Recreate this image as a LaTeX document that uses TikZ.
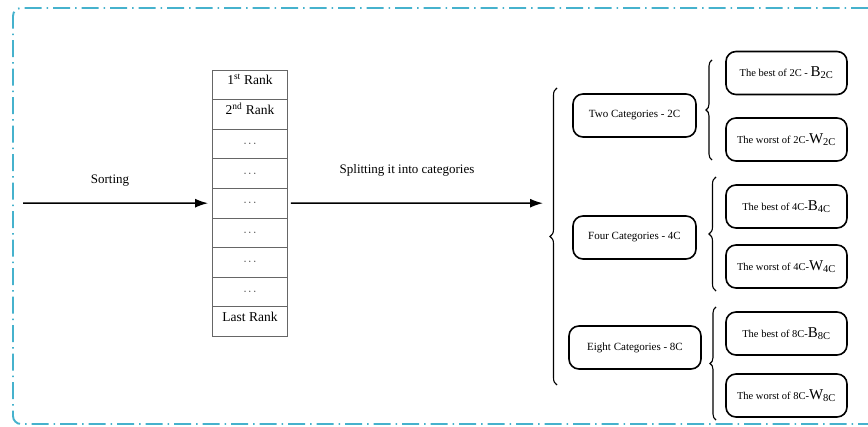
\documentclass[tikz,border=0pt]{standalone}
\usepackage{fontspec}
\setmainfont{Liberation Serif}
\usetikzlibrary{decorations.pathreplacing,arrows.meta}
\definecolor{framecyan}{RGB}{70,178,205}
\newcommand\bsz{\fontsize{15}{15}\selectfont}
\newcommand\celldots{\raisebox{-2.5pt}{\fontsize{11}{11}\selectfont$\cdots$}}
\begin{document}
\begin{tikzpicture}[x=1pt,y=-1pt,
 cell/.style={draw=black!60, line width=0.9pt, minimum width=75pt, minimum height=29.6pt, inner sep=0pt, text height=8pt, text depth=8pt, font=\fontsize{13.5}{15}\selectfont},
 catbox/.style={draw, rounded corners=10pt, line width=1.6pt, minimum height=43pt, inner sep=2pt, font=\fontsize{11}{13}\selectfont},
 resbox/.style={draw, rounded corners=10pt, line width=1.6pt, minimum width=121pt, minimum height=43pt, inner sep=2pt, font=\fontsize{10.5}{13}\selectfont},
 arr/.style={line width=1.5pt, -{Latex[length=13pt,width=9pt]}},
 brc/.style={decorate, decoration={brace, amplitude=6pt}, line width=1.1pt},
 lbl/.style={font=\fontsize{13}{15}\selectfont, inner sep=0pt}
]
\useasboundingbox (0,0) rectangle (868,427);
% frame
\draw[framecyan, line width=1.9pt, dash pattern=on 17pt off 5pt on 1.5pt off 5pt, rounded corners=8pt]
  (868,8) -- (13,8) -- (13,424) -- (868,424);

% table
\foreach \i/\t in {1/{1\textsuperscript{st} Rank},2/{2\textsuperscript{nd} Rank},3/{\celldots},4/{\celldots},5/{\celldots},6/{\celldots},7/{\celldots},8/{\celldots},9/{Last Rank}}{
  \node[cell] (r\i) at (250,{70+29.6*(\i-0.5)}) {\t};
}

% sorting arrow
\coordinate (s0) at (23,203.2);
\draw[arr, shorten >=4pt] (s0) -- (r5.west);
\node[lbl] (sortlbl) at (110,181) {Sorting};

% splitting arrow
\coordinate (bigtip) at (543,203.2);
\draw[arr, shorten <=3pt] (r5.east) -- (bigtip);
\node[lbl] (splitlbl) at (407,170) {Splitting it into categories};

% big brace
\coordinate (bb1) at (557,385);
\coordinate (bb2) at (557,88);
\draw[brc, decoration={amplitude=7pt}] (bb1) -- (bb2);

% category boxes
\node[catbox, minimum width=123pt] (c2) at (634.5,115.5) {Two Categories - 2C};
\node[catbox, minimum width=123pt] (c4) at (634.5,237.5) {Four Categories - 4C};
\node[catbox, minimum width=132pt] (c8) at (635,347.5) {Eight Categories - 8C};

% small braces
\coordinate (b1a) at (712,160);
\coordinate (b1b) at (712,60);
\draw[brc] (b1a) -- (b1b);
\coordinate (b2a) at (716,291);
\coordinate (b2b) at (716,177);
\draw[brc, decoration={amplitude=7pt}] (b2a) -- (b2b);
\coordinate (b3a) at (716,420);
\coordinate (b3b) at (716,307);
\draw[brc] (b3a) -- (b3b);

% result boxes
\node[resbox] (bb2c) at (786.5,73) {The best of 2C - {\bsz B\textsubscript{2C}}};
\node[resbox] (ww2c) at (786.5,139.5) {The worst of 2C-{\bsz W\textsubscript{2C}}};
\node[resbox] (bb4c) at (786.5,206.5) {The best of 4C-{\bsz B\textsubscript{4C}}};
\node[resbox] (ww4c) at (786.5,266.5) {The worst of 4C-{\bsz W\textsubscript{4C}}};
\node[resbox] (bb8c) at (786.5,333.5) {The best of 8C-{\bsz B\textsubscript{8C}}};
\node[resbox] (ww8c) at (786.5,395.5) {The worst of 8C-{\bsz W\textsubscript{8C}}};
\end{tikzpicture}
\end{document}
